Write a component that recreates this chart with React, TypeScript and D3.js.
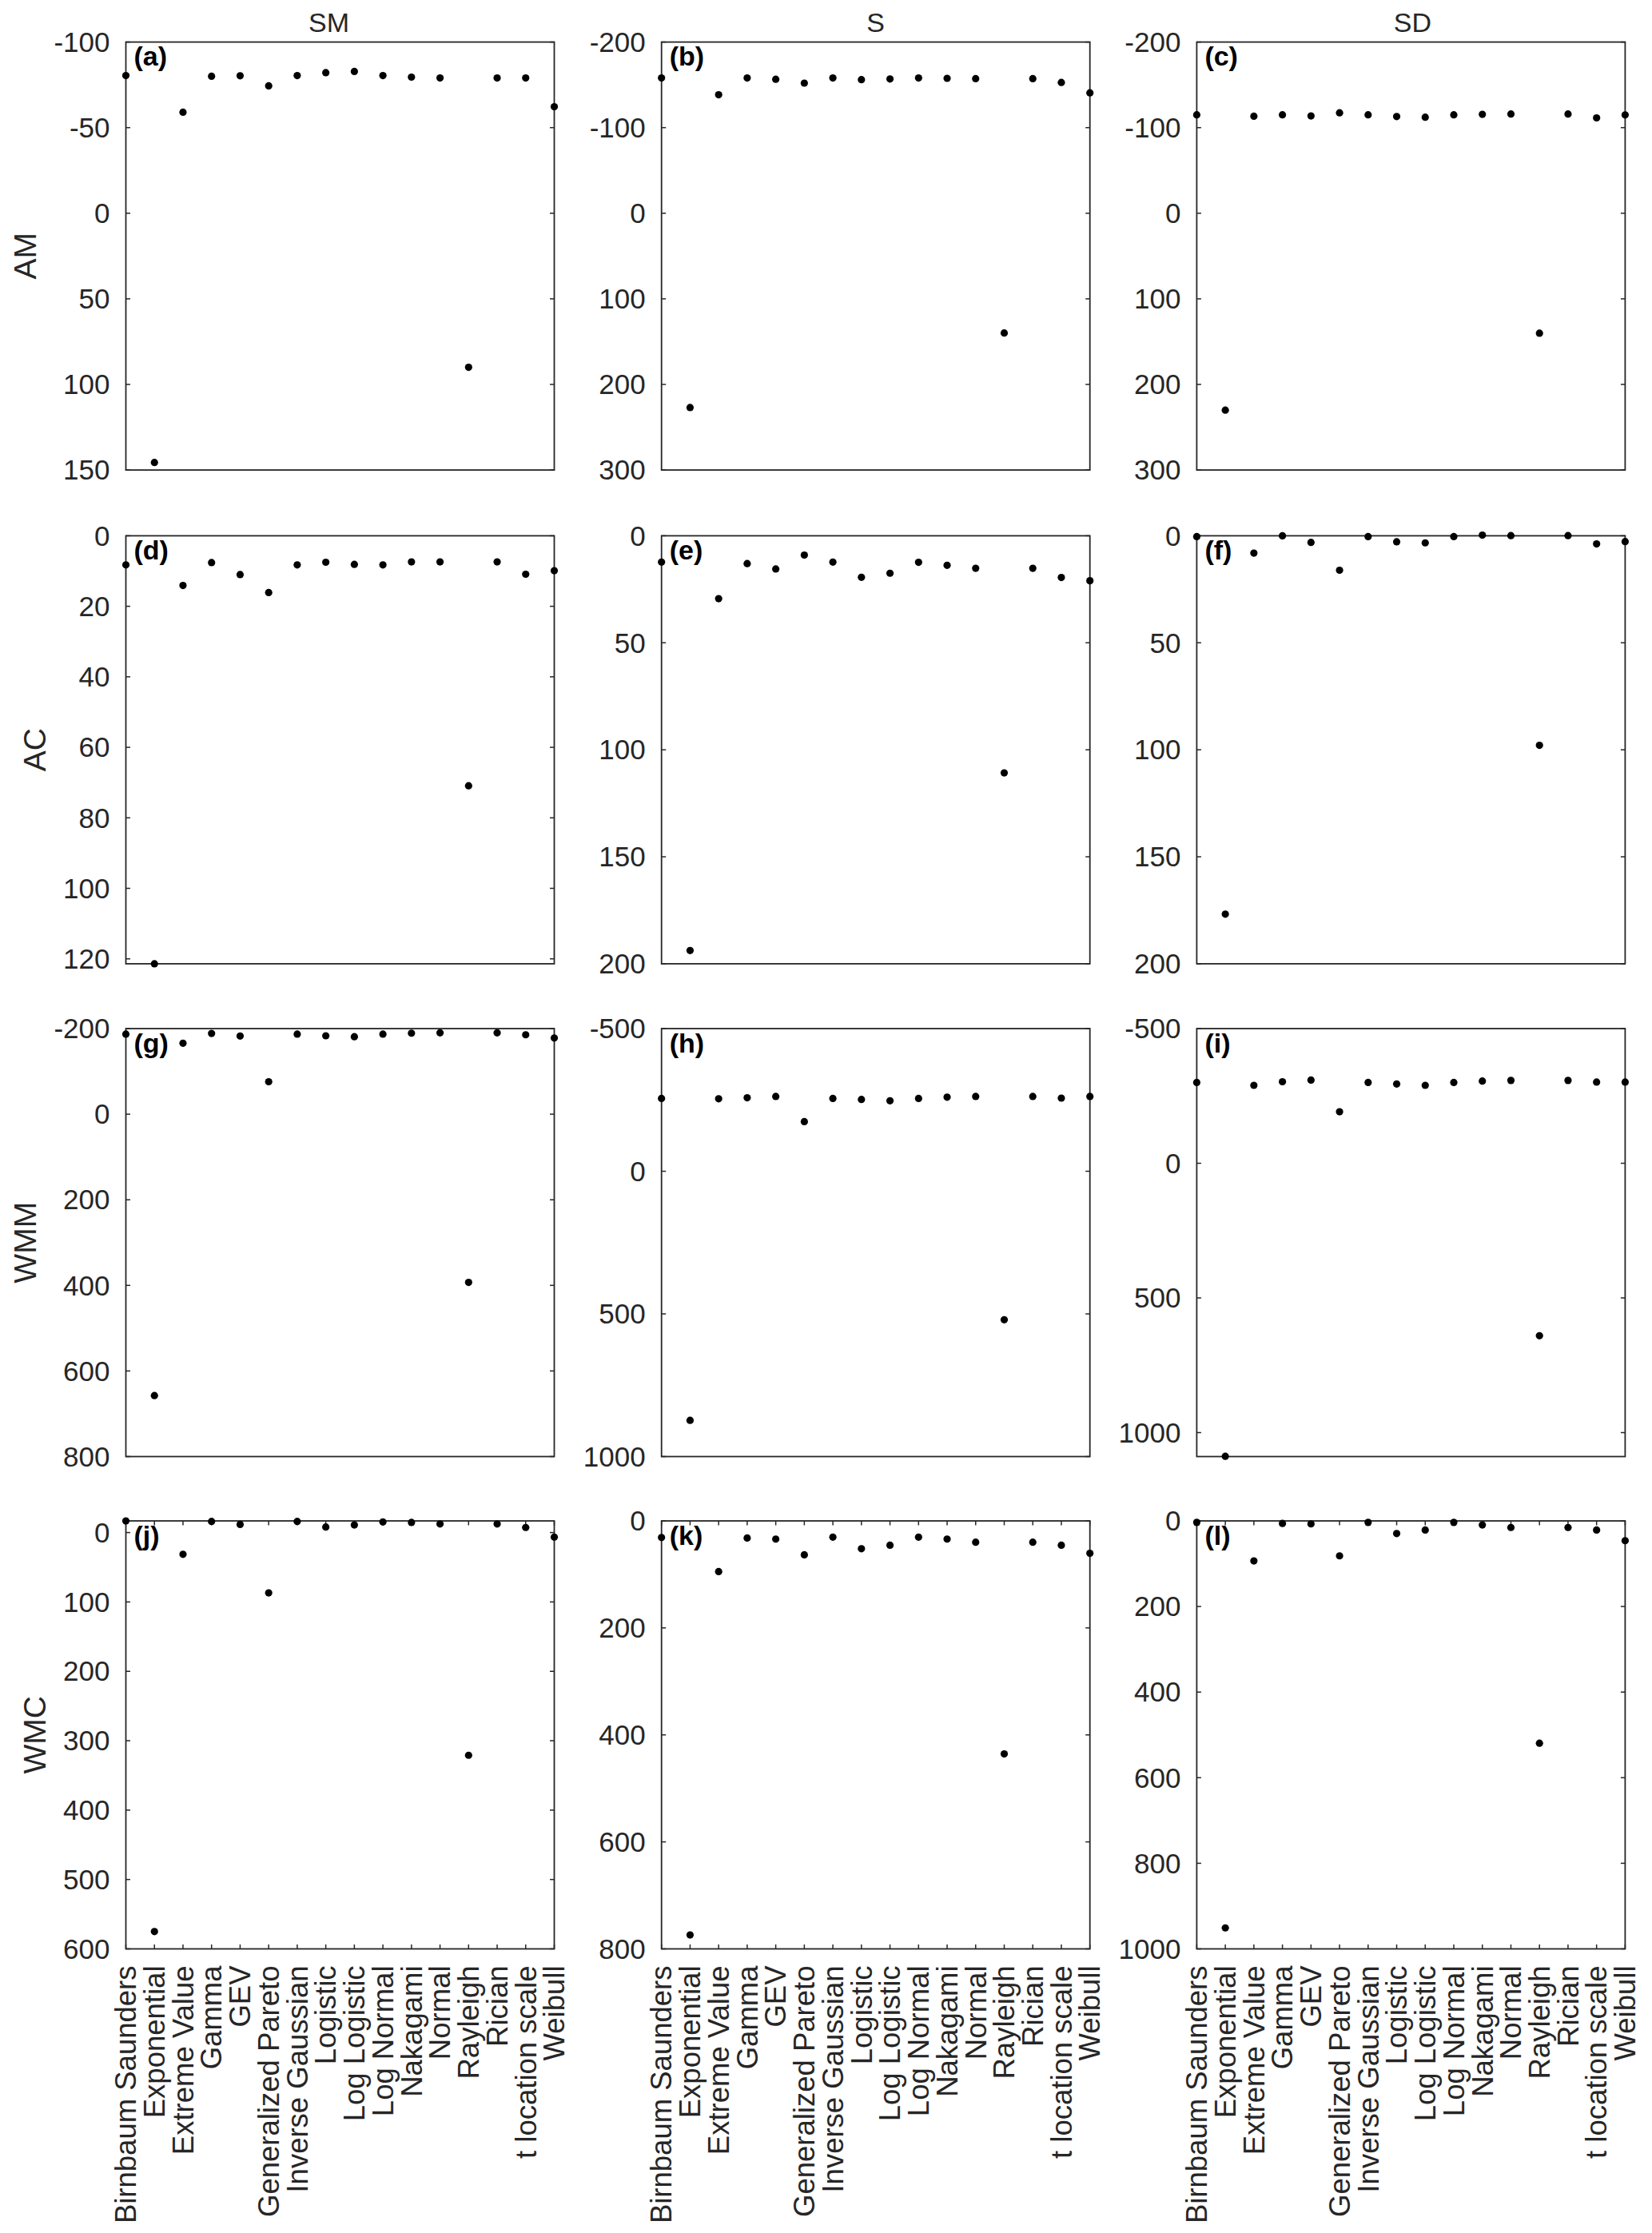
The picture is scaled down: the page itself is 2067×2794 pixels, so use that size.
import React, { useEffect, useRef } from "react";
import * as d3 from "d3";

const W = 2067;
const H = 2794;

const categories = [
  "Birnbaum Saunders", "Exponential", "Extreme Value", "Gamma", "GEV",
  "Generalized Pareto", "Inverse Gaussian", "Logistic", "Log Logistic",
  "Log Normal", "Nakagami", "Normal", "Rayleigh", "Rician",
  "t location scale", "Weibull",
];
const columnTitles = ["SM", "S", "SD"];
const rowLabels = ["AM", "AC", "WMM", "WMC"];
const panelLetters = ["(a)", "(b)", "(c)", "(d)", "(e)", "(f)", "(g)", "(h)", "(i)", "(j)", "(k)", "(l)"];

const amSM = [-80.4, 145.6, -59, -80, -80.3, -74.4, -80.4, -82.1, -82.8, -80.4, -79.5, -79, 90, -79, -79, -62.2];
const amS = [-158, 227, -138.4, -158, -156.5, -152, -158, -156, -156.8, -158, -157.6, -157.2, 139.9, -157.2, -152.8, -140.6];
const amSD = [-115, 230, -113.3, -115, -113.7, -117.3, -115, -113, -112.2, -115, -115.5, -115.9, 140.2, -115.9, -111.4, -114.8];
const acSM = [8.25, 121.4, 14.1, 7.6, 11.0, 16.1, 8.25, 7.5, 8.1, 8.25, 7.4, 7.4, 70.9, 7.4, 10.9, 9.9];
const acS = [12.3, 193.8, 29.4, 13, 15.5, 9, 12.3, 19.4, 17.5, 12.4, 13.8, 15.2, 110.8, 15.2, 19.5, 21];
const acSD = [0.4, 176.8, 8.1, 0, 3.1, 16.1, 0.4, 2.8, 3.3, 0.4, -0.3, -0.1, 97.9, -0.1, 3.8, 2.7];
const wmmSM = [-187, 657.5, -165.7, -188.6, -182.5, -75.8, -187, -183.2, -181, -187, -189.3, -190, 393, -190, -185.5, -177.9];
const wmmS = [-255, 873, -254, -257.4, -262, -174, -255, -251.7, -247, -255, -259.7, -262, 520.6, -262, -256.3, -262];
const wmmSD = [-300, 1088, -289.3, -302.7, -308.7, -191.3, -300, -294.2, -289.3, -300, -305, -307.5, 640.4, -307.5, -301.5, -301.5];
const wmcSM = [-16.8, 575, 31.4, -16, -11.7, 86.9, -16, -8, -11, -15.3, -14.6, -12.4, 321, -12.4, -7.3, 6.6];
const wmcS = [31, 774, 94.7, 32, 34, 63.4, 30.3, 52, 45.5, 30.3, 34, 39.8, 435.6, 39.8, 45.5, 60.6];
const wmcSD = [3.5, 951, 93.5, 6, 7, 81.7, 3.5, 29.6, 21.3, 3.5, 9.5, 15.4, 519.5, 15.4, 21.3, 46.2];

const panelValues = [amSM, amS, amSD, acSM, acS, acSD, wmmSM, wmmS, wmmSD, wmcSM, wmcS, wmcSD];

const yDomains = [
  [-100, 150], [-200, 300], [-200, 300],
  [0, 121.4], [0, 200], [0, 200],
  [-200, 800], [-500, 1000], [-500, 1089],
  [-16.8, 600], [0, 800], [0, 1000],
];
const yTickSteps = [50, 100, 100, 20, 50, 50, 200, 500, 500, 100, 200, 200];

// layout
const colLeft = [157.5, 827.7, 1497.4];
const rowTop = [52.6, 670.4, 1287, 1903];
const PW = 536;
const PH = 535.5;
const titleDx = [-14, 0, 2];

const FONT = "'Liberation Sans', Arial, Helvetica, sans-serif";
const AX = "#262626";

export default function App() {
  const ref = useRef<SVGSVGElement | null>(null);

  useEffect(() => {
    const svg = d3.select(ref.current);
    svg.selectAll("*").remove();
    svg.append("rect").attr("width", W).attr("height", H).attr("fill", "#fff");

    for (let r = 0; r < 4; r++) {
      for (let c = 0; c < 3; c++) {
        const i = r * 3 + c;
        const L = colLeft[c];
        const T = rowTop[r];
        const g = svg.append("g");
        const x = d3.scalePoint<string>().domain(categories).range([L, L + PW]).padding(0);
        const [y0, y1] = yDomains[i];
        const y = d3.scaleLinear().domain([y0, y1]).range([T, T + PH]);
        const step = yTickSteps[i];
        const ticks = d3.range(Math.ceil(y0 / step) * step, y1 + 1e-9, step);

        // box
        g.append("rect")
          .attr("x", L).attr("y", T).attr("width", PW).attr("height", PH)
          .attr("fill", "none").attr("stroke", AX).attr("stroke-width", 1.8);

        // y ticks (both sides, inward)
        const tl = 5.5;
        g.selectAll(".ytl").data(ticks).enter().append("line")
          .attr("x1", L).attr("x2", L + tl)
          .attr("y1", (d) => y(d)).attr("y2", (d) => y(d))
          .attr("stroke", AX).attr("stroke-width", 1.5);
        g.selectAll(".ytr").data(ticks).enter().append("line")
          .attr("x1", L + PW).attr("x2", L + PW - tl)
          .attr("y1", (d) => y(d)).attr("y2", (d) => y(d))
          .attr("stroke", AX).attr("stroke-width", 1.5);

        const labels = g.selectAll(".ylab").data(ticks).enter().append("text")
          .attr("x", L - 20).attr("y", (d) => y(d)).attr("dy", "0.35em")
          .attr("text-anchor", "end")
          .attr("font-family", FONT).attr("font-size", 35).attr("fill", AX)
          .text((d) => String(d));

        if (c === 0) {
          let minX = L - 20;
          labels.each(function () {
            const bb = (this as SVGTextElement).getBBox();
            if (bb.x < minX) minX = bb.x;
          });
          const xb = minX - 22;
          const cy = T + PH / 2;
          g.append("text")
            .attr("transform", `translate(${xb},${cy}) rotate(-90)`)
            .attr("text-anchor", "middle")
            .attr("font-family", FONT).attr("font-size", 39).attr("fill", AX)
            .text(rowLabels[r]);
        }

        if (r === 3) {
          g.selectAll(".xtb").data(categories).enter().append("line")
            .attr("x1", (d) => x(d) as number).attr("x2", (d) => x(d) as number)
            .attr("y1", T + PH).attr("y2", T + PH - tl)
            .attr("stroke", AX).attr("stroke-width", 1.5);
          g.selectAll(".xtt").data(categories).enter().append("line")
            .attr("x1", (d) => x(d) as number).attr("x2", (d) => x(d) as number)
            .attr("y1", T).attr("y2", T + tl)
            .attr("stroke", AX).attr("stroke-width", 1.5);
          g.selectAll(".xlab").data(categories).enter().append("text")
            .attr("transform", (d) => `translate(${x(d)},${T + PH + 21}) rotate(-90)`)
            .attr("dy", "0.35em")
            .attr("text-anchor", "end")
            .attr("font-family", FONT).attr("font-size", 36.5).attr("fill", AX)
            .text((d) => d);
        }

        if (r === 0) {
          g.append("text")
            .attr("x", L + PW / 2 + titleDx[c]).attr("y", 39.5)
            .attr("text-anchor", "middle")
            .attr("font-family", FONT).attr("font-size", 34).attr("fill", AX)
            .text(columnTitles[c]);
        }

        // panel letter
        g.append("text")
          .attr("x", L + 10).attr("y", T + 29.5)
          .attr("font-family", FONT).attr("font-size", 34).attr("font-weight", "bold")
          .attr("fill", "#000")
          .text(panelLetters[i]);

        // dots
        const vals = panelValues[i];
        g.selectAll(".dot").data(categories).enter().append("circle")
          .attr("cx", (d) => x(d) as number)
          .attr("cy", (_d, k) => y(vals[k]))
          .attr("r", 4.6)
          .attr("fill", "#000");
      }
    }
  }, []);

  return (
    <svg
      ref={ref}
      width={W}
      height={H}
      viewBox={`0 0 ${W} ${H}`}
      style={{ position: "absolute", left: 0, top: 0, display: "block" }}
    />
  );
}
